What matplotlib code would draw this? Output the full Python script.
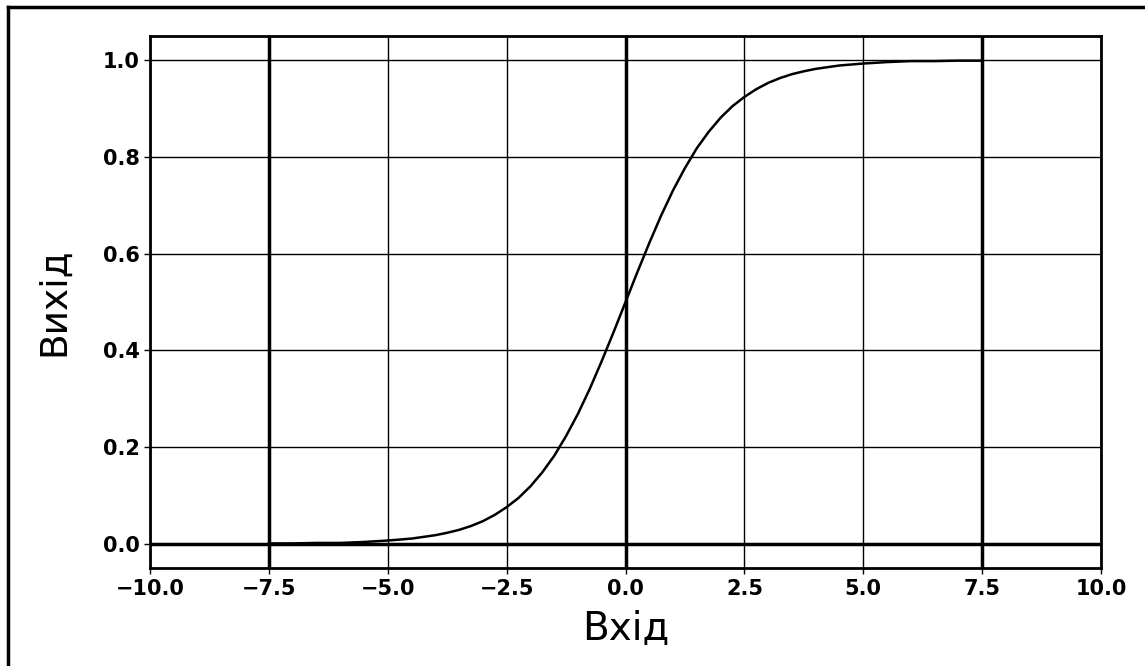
import numpy as np
import matplotlib.pyplot as plt
from matplotlib.lines import Line2D

# Значення (сигмоїда)
x_vals = [-7.5, -7.0, -6.5, -6.0, -5.5, -5.0, -4.5, -4.0, -3.75, -3.5, -3.25, -3.0,
          -2.75, -2.5, -2.25, -2.0, -1.75, -1.5, -1.25, -1.0, -0.75, -0.5, -0.25, 0.0,
          0.25, 0.5, 0.75, 1.0, 1.25, 1.5, 1.75, 2.0, 2.25, 2.5, 2.75, 3.0, 3.25, 3.5,
          3.75, 4.0, 4.5, 5.0, 5.5, 6.0, 6.5, 7.0, 7.5]
y_vals = [0.001, 0.001, 0.002, 0.002, 0.004, 0.007, 0.011, 0.018, 0.023, 0.029, 0.037, 0.047,
          0.060, 0.076, 0.095, 0.119, 0.148, 0.182, 0.223, 0.269, 0.321, 0.378, 0.438, 0.500,
          0.562, 0.622, 0.679, 0.731, 0.777, 0.818, 0.852, 0.881, 0.905, 0.924, 0.940, 0.953, 0.963, 0.971,
          0.977, 0.982, 0.989, 0.993, 0.996, 0.998, 0.998, 0.999, 0.999]

x_ticks = [-10.0, -7.5, -5.0, -2.5, 0.0, 2.5, 5.0, 7.5, 10.0]
y_ticks = [0.0, 0.2, 0.4, 0.6, 0.8, 1.0]

fig = plt.figure(figsize=(11.45, 6.66), dpi=100)
ax = fig.add_axes([0.131, 0.147, 0.8306, 0.799])

ax.plot(x_vals, y_vals, color='black', linewidth=1.8)

ax.set_xlim(-10, 10)
ax.set_ylim(-0.05, 1.05)
ax.set_xticks(x_ticks)
ax.set_yticks(y_ticks)
ax.set_xticklabels([f"{t:.1f}".replace('-', '\u2212') for t in x_ticks])
ax.set_yticklabels([f"{t:.1f}" for t in y_ticks])
ax.tick_params(labelsize=15, width=1, length=4, color='black')
for lbl in ax.get_xticklabels() + ax.get_yticklabels():
    lbl.set_fontweight('bold')

ax.grid(True, color='black', linewidth=1)
# жирніші лінії як на скані
ax.axhline(0, color='black', linewidth=2.5)
for xv in [-7.5, 0.0, 7.5]:
    ax.axvline(xv, color='black', linewidth=2.5)

for sp in ax.spines.values():
    sp.set_linewidth(2)

ax.set_xlabel('Вхід', fontsize=28, labelpad=8)
ax.set_ylabel('Вихід', fontsize=27, labelpad=22)

# рамка скану: лише верхня та ліва лінії
x0, ytop = 8 / 1145, 1 - 7 / 666
fig.add_artist(Line2D([x0, 1.0], [ytop, ytop], transform=fig.transFigure,
                      color='black', linewidth=2.5))
fig.add_artist(Line2D([x0, x0], [0.0, ytop], transform=fig.transFigure,
                      color='black', linewidth=2.5))

fig.savefig('out.png', dpi=100)
